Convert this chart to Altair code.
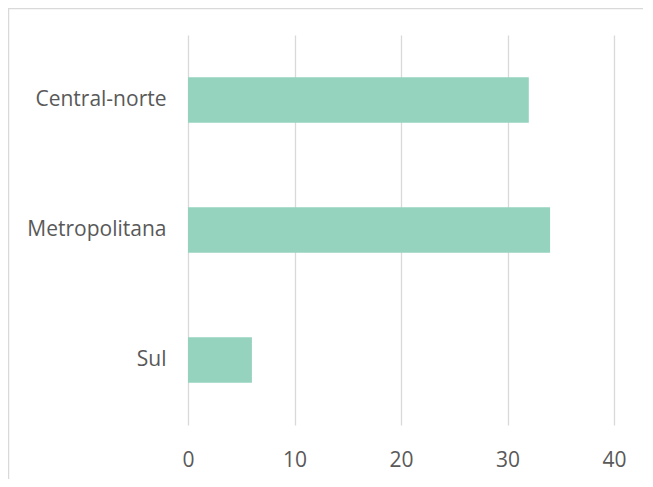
import altair as alt
import pandas as pd

regions = ["Central-norte", "Metropolitana", "Sul"]
values = [32, 34, 6]
x_ticks = [0, 10, 20, 30, 40]

df = pd.DataFrame({"regiao": regions, "valor": values})

W, H = 426, 390

bars = alt.Chart(df).mark_bar(color="#95D3BE").encode(
    x=alt.X("valor:Q",
            scale=alt.Scale(domain=[0, 40], nice=False),
            axis=alt.Axis(values=x_ticks, title=None, domain=False, ticks=False,
                          grid=True, gridColor="#D9D9D9", gridWidth=1.3,
                          labelFlush=False,
                          labelFontSize=21, labelColor="#595959", labelPadding=24,
                          labelFont="Open Sans")),
    y=alt.Y("regiao:N", sort=regions,
            scale=alt.Scale(paddingInner=0.65, paddingOuter=0.325),
            axis=alt.Axis(title=None, domain=False, ticks=False, grid=False,
                          labelFontSize=21, labelColor="#595959", labelPadding=22,
                          labelFont="Open Sans")),
)

border = pd.DataFrame({"k": [0]})
top_line = alt.Chart(border).mark_rule(color="#D9D9D9", strokeWidth=1.5).encode(
    x=alt.value(-180), x2=alt.value(W + 100), y=alt.value(-26.5))
left_line = alt.Chart(border).mark_rule(color="#D9D9D9", strokeWidth=1.5).encode(
    x=alt.value(-179.5), y=alt.value(-27), y2=alt.value(H + 80))

chart = alt.layer(bars, top_line, left_line).properties(
    width=W, height=H,
    background="white",
    autosize=alt.AutoSizeParams(type="none"),
    padding={"left": 180, "top": 27, "right": 29, "bottom": 54},
).configure_view(stroke=None)

chart.save("out.html", embed_options={"renderer": "svg", "actions": False})
